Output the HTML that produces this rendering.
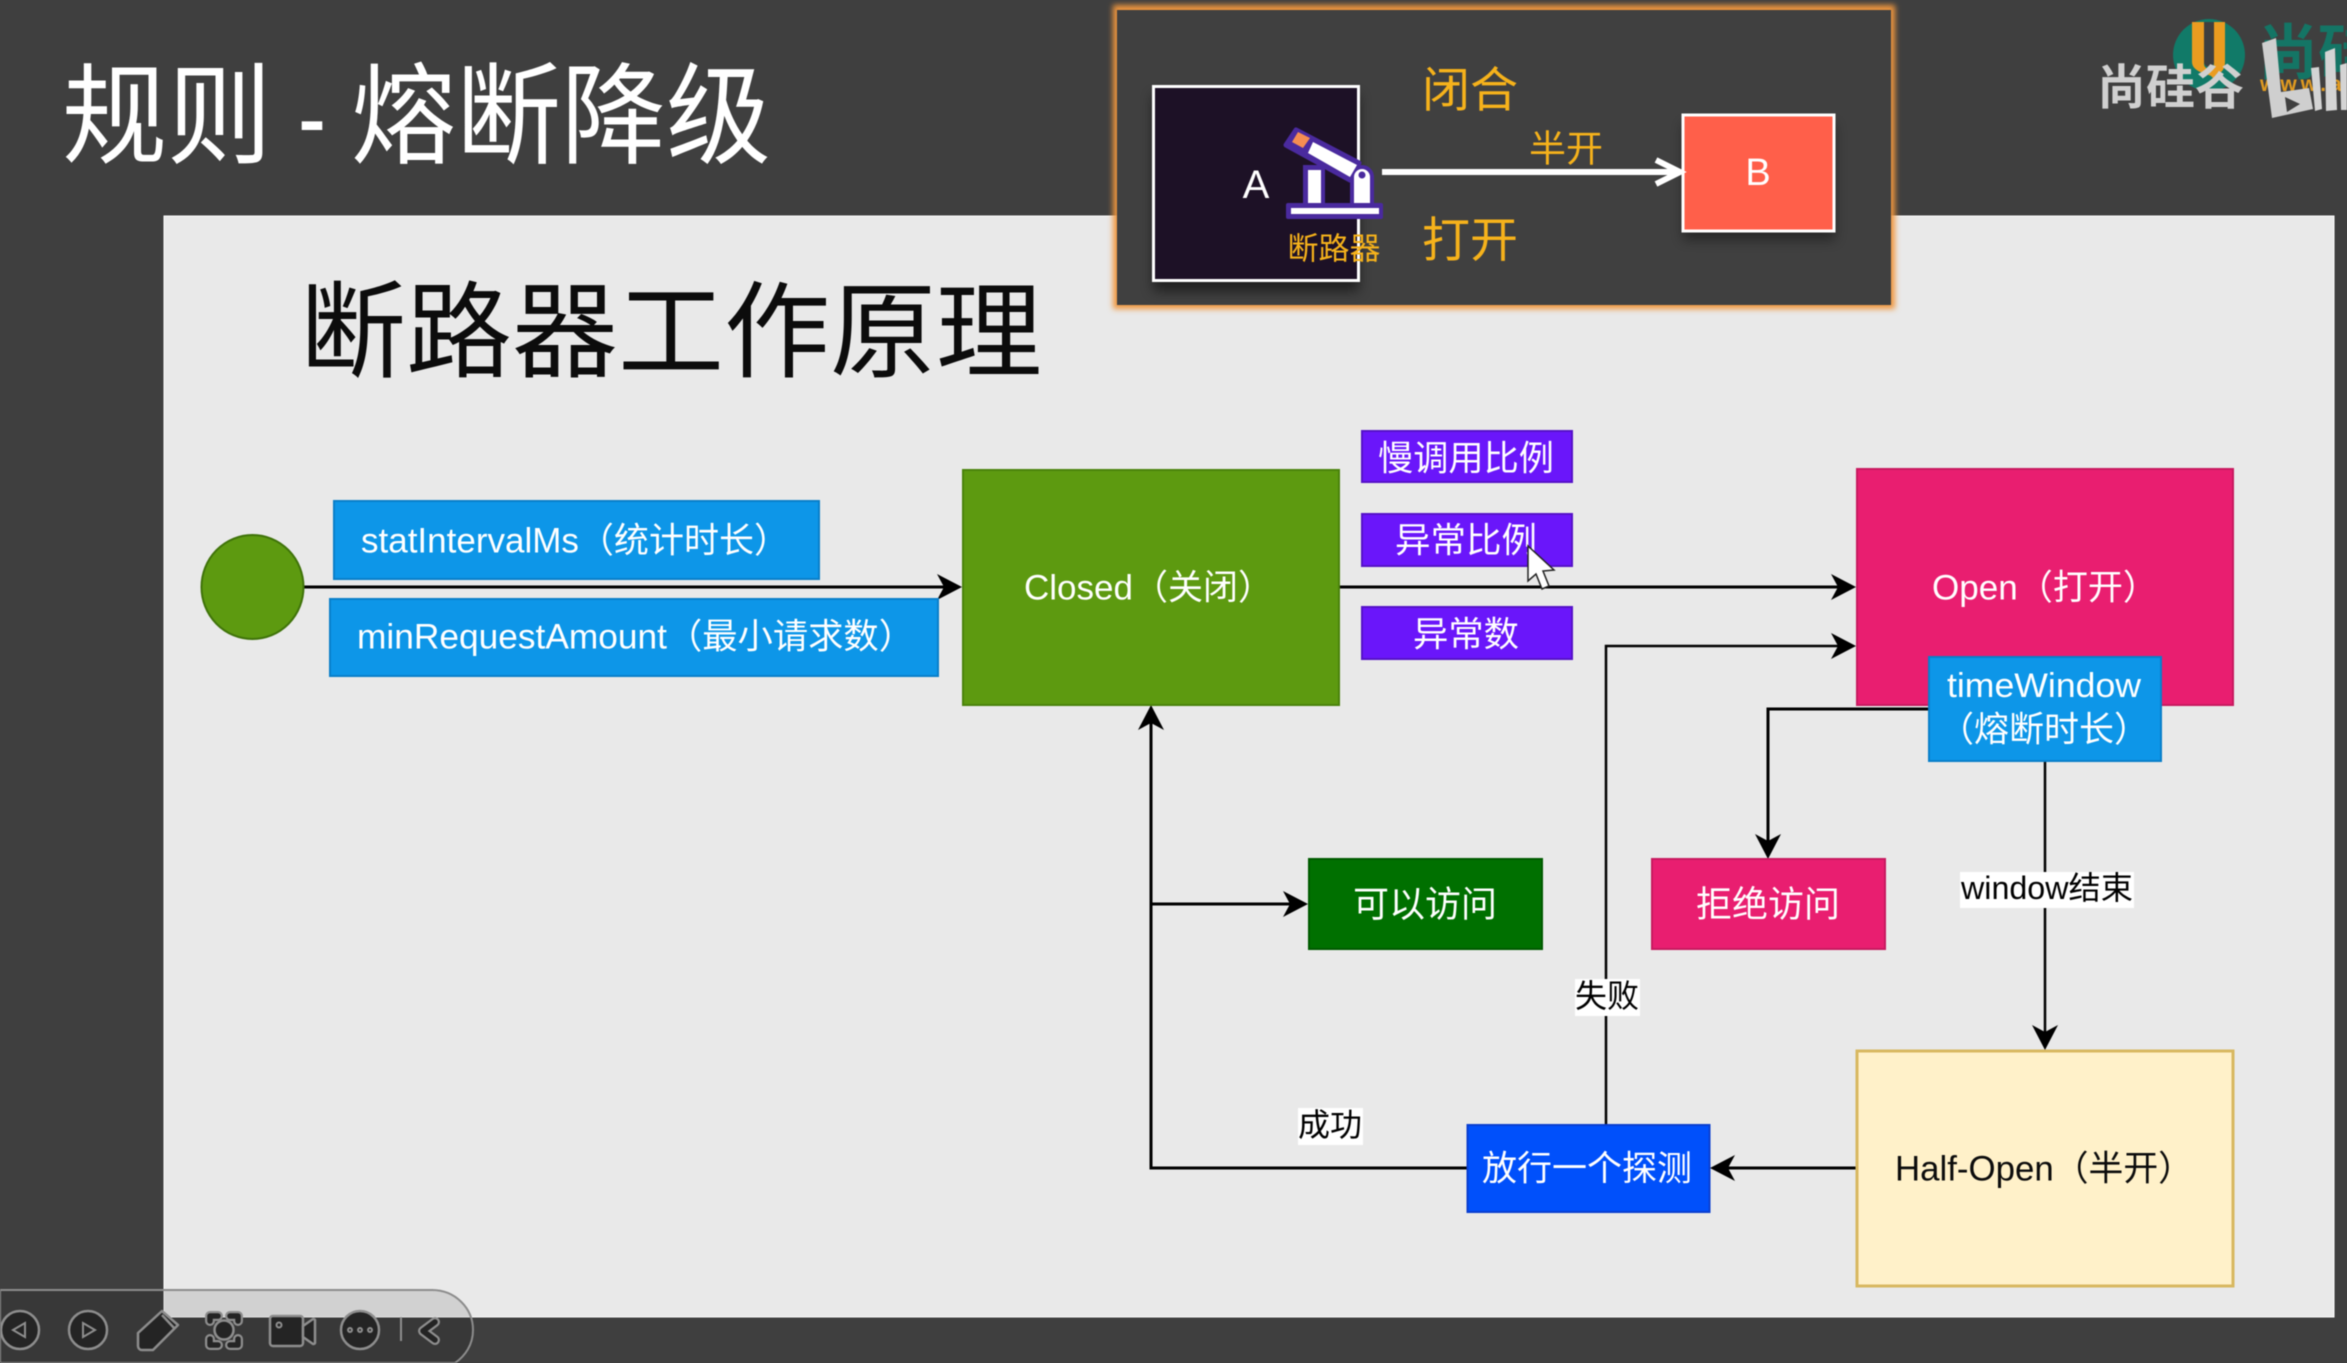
<!DOCTYPE html>
<html lang="zh"><head><meta charset="utf-8"><style>
html,body{margin:0;padding:0;background:#3f3f3f;width:2347px;height:1363px;overflow:hidden}
svg{display:block;filter:blur(.6px)}
text{font-family:"Liberation Sans","Noto Sans CJK SC",sans-serif}
.c{text-anchor:middle;dominant-baseline:central}
</style></head><body>
<svg width="2347" height="1363" viewBox="0 0 2347 1363" xmlns="http://www.w3.org/2000/svg">
<defs>
<filter id="glow" x="-5%" y="-8%" width="110%" height="116%"><feGaussianBlur stdDeviation="3"/></filter>
<filter id="sh" x="-20%" y="-20%" width="140%" height="140%"><feGaussianBlur stdDeviation="6"/></filter>
</defs>
<rect width="2347" height="1363" fill="#3f3f3f"/>
<g font-size="110" fill="#fff">
<text x="62" y="155" textLength="210" lengthAdjust="spacingAndGlyphs">规则</text>
<text x="298" y="155" textLength="28" lengthAdjust="spacingAndGlyphs">-</text>
<text x="351" y="155" textLength="420" lengthAdjust="spacingAndGlyphs">熔断降级</text>
</g>
<rect x="164" y="216" width="2170" height="1101" fill="#e9e9e9" stroke="#fff" stroke-width="1"/>
<text x="300" y="369" font-size="105" fill="#0c0c0c" textLength="742" lengthAdjust="spacingAndGlyphs">断路器工作原理</text>

<!-- logo -->
<circle cx="2209" cy="55" r="36" fill="#117a68"/>
<path d="M2204 22h10v40a5 5 0 0 1-10 0z" fill="#3f3f3f"/>
<path d="M2192 22h12v42a5 5 0 0 0 10 0V22h11v40c0 10-7 12-10 14l-2 2-2-2c-3-2-19-4-19-14z" fill="#ea9c20"/>
<text x="2258" y="74" font-size="60" fill="#147565" font-weight="bold">尚硅</text>
<text x="2260" y="91" font-size="21" fill="#e09a20" font-weight="bold" letter-spacing="4">www.at</text>
<text x="2097" y="104" font-size="48" fill="#d0d0d0" font-weight="bold" textLength="147" lengthAdjust="spacingAndGlyphs">尚硅谷</text>
<path d="M2262 43l14-5 5 54 28-4 4 21-41 9z" fill="#cfcfcf"/>
<path d="M2285 97l15 7-13 8z" fill="#3f3f3f"/>
<path d="M2311 68l8-1 3 42-7 2zM2325 52l10-4 2 62-11 1zM2340 65l7-2v47h-6z" fill="#d4d4d4"/>

<!-- inset panel -->
<rect x="1113" y="5" width="782" height="304" fill="#f0963c" filter="url(#glow)"/>
<rect x="1117" y="10" width="774" height="295" fill="#404040"/>
<rect x="1153" y="95" width="206" height="196" fill="#000" opacity=".5" filter="url(#sh)"/>
<rect x="1683" y="124" width="152" height="116" fill="#000" opacity=".4" filter="url(#sh)"/>
<rect x="1153.5" y="86.5" width="205" height="194" fill="#1d1126" stroke="#fff" stroke-width="3"/>
<rect x="1683" y="115" width="151" height="116" fill="#ff5f4a" stroke="#fff" stroke-width="3"/>
<text class="c" x="1256" y="185" font-size="40" fill="#fff">A</text>
<text class="c" x="1758" y="173" font-size="38" fill="#fff">B</text>
<path d="M1382 172H1678" stroke="#fff" stroke-width="6"/>
<path d="M1656 160l24 12-24 12" fill="none" stroke="#fff" stroke-width="6"/>
<text class="c" x="1470" y="91" font-size="48" fill="#f6b21b">闭合</text>
<text class="c" x="1470" y="241" font-size="48" fill="#f6b21b">打开</text>
<text class="c" x="1566" y="149" font-size="37" fill="#f6b21b">半开</text>
<text class="c" x="1334" y="249" font-size="31" fill="#f6b21b">断路器</text>
<!-- robot arm -->
<rect x="1303" y="165" width="22" height="40" fill="#4a2a9e"/>
<path d="M1350 205v-28a12 12 0 0 1 24 0v28z" fill="#4a2a9e"/>
<path d="M1296 130l63 33-9 17-64-35z" fill="#4a2a9e" stroke="#4a2a9e" stroke-width="5" stroke-linejoin="round"/>
<path d="M1313 142l44 23-7 12-42-24z" fill="#fff"/>
<path d="M1298 132l12 6-7 10-11-6z" fill="#f58d52"/>
<rect x="1308" y="170" width="13" height="34" fill="#fff"/>
<path d="M1354 204v-27a8 8 0 0 1 16 0v27z" fill="#fff"/>
<circle cx="1362" cy="175" r="3.500" fill="#4a2a9e"/>
<rect x="1286" y="203" width="97" height="16" rx="2" fill="#4a2a9e"/>
<rect x="1291" y="208" width="88" height="6" fill="#fff"/>

<!-- connectors -->
<g stroke="#000" fill="none">
<path d="M304 587H950" stroke-width="3"/>
<path d="M1339 587H1845" stroke-width="3"/>
<path d="M1606 1124V646H1845" stroke-width="2.5"/>
<path d="M1928 709H1768V848" stroke-width="3"/>
<path d="M2045 761V1040" stroke-width="2.5"/>
<path d="M1856 1168H1722" stroke-width="3"/>
<path d="M1467 1168H1151V716" stroke-width="3"/>
<path d="M1151 904H1298" stroke-width="3"/>
</g>
<g fill="#000">
<path d="M962 587l-25-13 7 13-7 13z"/>
<path d="M1856 587l-25-13 7 13-7 13z"/>
<path d="M1856 646l-25-13 7 13-7 13z"/>
<path d="M1308 904l-25-13 7 13-7 13z"/>
<path d="M1710 1168l25-13-7 13 7 13z"/>
<path d="M1151 705l-13 25 13-7 13 7z"/>
<path d="M1768 859l-13-25 13 7 13-7z"/>
<path d="M2045 1050l-13-25 13 7 13-7z"/>
</g>

<!-- nodes -->
<ellipse cx="252.500" cy="587" rx="51" ry="52" fill="#5d9a10" stroke="#3f7309" stroke-width="2"/>
<rect x="334" y="501" width="485" height="78" fill="#0d96e8" stroke="#0a7fc9" stroke-width="2"/>
<text x="361" y="541" font-size="35" fill="#fff" dominant-baseline="central" textLength="428" lengthAdjust="spacingAndGlyphs">statIntervalMs（统计时长）</text>
<rect x="330" y="599" width="608" height="77" fill="#0d96e8" stroke="#0a7fc9" stroke-width="2"/>
<text x="357" y="637" font-size="35" fill="#fff" dominant-baseline="central" textLength="557" lengthAdjust="spacingAndGlyphs">minRequestAmount（最小请求数）</text>
<rect x="963" y="470" width="376" height="235" fill="#5d9a10" stroke="#4a830c" stroke-width="2"/>
<text x="1024" y="588" font-size="35" fill="#fff" dominant-baseline="central" textLength="249" lengthAdjust="spacingAndGlyphs">Closed（关闭）</text>
<g fill="#6a16fa" stroke="#5512c8" stroke-width="2">
<rect x="1362" y="431" width="210" height="51"/><rect x="1362" y="514" width="210" height="52"/><rect x="1362" y="607" width="210" height="52"/>
</g>
<g fill="#fff" font-size="35">
<text class="c" x="1466" y="459" textLength="176" lengthAdjust="spacingAndGlyphs">慢调用比例</text>
<text class="c" x="1466" y="541" textLength="142" lengthAdjust="spacingAndGlyphs">异常比例</text>
<text class="c" x="1466" y="635" textLength="106" lengthAdjust="spacingAndGlyphs">异常数</text>
</g>
<rect x="1857" y="469" width="376" height="236" fill="#e91e70" stroke="#c81a60" stroke-width="2"/>
<text x="1932" y="588" font-size="35" fill="#fff" dominant-baseline="central" textLength="226" lengthAdjust="spacingAndGlyphs">Open（打开）</text>
<rect x="1929" y="657" width="232" height="104" fill="#0d96e8" stroke="#0a7fc9" stroke-width="2"/>
<text class="c" x="2044" y="686" font-size="34" fill="#fff" textLength="194" lengthAdjust="spacingAndGlyphs">timeWindow</text>
<text class="c" x="2044" y="730" font-size="35" fill="#fff" textLength="210" lengthAdjust="spacingAndGlyphs">（熔断时长）</text>
<rect x="1309" y="859" width="233" height="90" fill="#007000" stroke="#005a00" stroke-width="2"/>
<text class="c" x="1425" y="904" font-size="36" fill="#fff">可以访问</text>
<rect x="1652" y="859" width="233" height="90" fill="#e91e70" stroke="#c81a60" stroke-width="2"/>
<text class="c" x="1768" y="904" font-size="36" fill="#fff">拒绝访问</text>
<rect x="1467.500" y="1125" width="242" height="87" fill="#0050fb" stroke="#0a3fd0" stroke-width="2"/>
<text class="c" x="1587" y="1169" font-size="35" fill="#fff">放行一个探测</text>
<rect x="1857" y="1051" width="376" height="235" fill="#fff1c9" stroke="#d8b860" stroke-width="3"/>
<text x="1895" y="1169" font-size="35" fill="#0c0c0c" dominant-baseline="central" textLength="298" lengthAdjust="spacingAndGlyphs">Half-Open（半开）</text>

<!-- edge labels -->
<rect x="1960" y="872" width="174" height="36" fill="#fff"/>
<text x="1961" y="888" font-size="32" fill="#000" dominant-baseline="central" textLength="172" lengthAdjust="spacingAndGlyphs">window结束</text>
<rect x="1575" y="979" width="65" height="37" fill="#fff"/>
<text class="c" x="1607" y="996" font-size="32" fill="#000">失败</text>
<rect x="1298" y="1108" width="65" height="37" fill="#fff"/>
<text class="c" x="1330" y="1125" font-size="32" fill="#000">成功</text>

<!-- cursor -->
<path d="M1528 546l0 35 8-7 6 15 7-3-6-15 11-1z" fill="#fff" stroke="#222" stroke-width="1.500"/>

<!-- toolbar -->
<path d="M0 1290H432C455 1290 473 1308 473 1330C473 1345 465 1356 455 1363H0Z" fill="#000" fill-opacity=".1" stroke="#8c8c8c" stroke-width="2"/>
<g fill="#242424" stroke="#8d8d8d" stroke-width="2.500">
<circle cx="20" cy="1330" r="19"/><circle cx="88" cy="1330" r="19"/>
<path d="M138 1333L162 1311L178 1325L153 1350H142A4 4 0 0 1 138 1346Z" stroke-linejoin="round"/>
<circle cx="224" cy="1330" r="9.500"/>
<path d="M270 1319a3 3 0 0 1 3-3h27a3 3 0 0 1 3 3v24a3 3 0 0 1-3 3h-27a3 3 0 0 1-3-3z"/>
<path d="M303 1326l10-7a2 2 0 0 1 2 1v23a2 2 0 0 1-2 1l-10-7z" stroke-linejoin="round"/>
<circle cx="360" cy="1330" r="19"/>
</g>
<path d="M162 1315L175 1329" stroke="#8d8d8d" stroke-width="2.500" fill="none"/>
<g fill="none" stroke="#8d8d8d" stroke-width="10" stroke-linecap="round" stroke-linejoin="round">
<path d="M210 1321V1316H218M230 1316H238V1321M210 1339V1345H218M230 1345H238V1339"/>
<path d="M435 1322L423 1331L435 1340"/>
</g>
<g fill="none" stroke="#242424" stroke-width="5.500" stroke-linecap="round" stroke-linejoin="round">
<path d="M210 1321V1316H218M230 1316H238V1321M210 1339V1345H218M230 1345H238V1339"/>
<path d="M435 1322L423 1331L435 1340"/>
</g>
<g fill="none" stroke="#8d8d8d" stroke-width="2"><circle cx="279" cy="1325" r="2.500"/><path d="M13 1330l12-7v14z"/><path d="M95 1330l-12-7v14z"/><circle cx="350" cy="1330" r="2"/><circle cx="360" cy="1330" r="2"/><circle cx="370" cy="1330" r="2"/><path d="M401 1317v24"/></g>
</svg>
</body></html>
